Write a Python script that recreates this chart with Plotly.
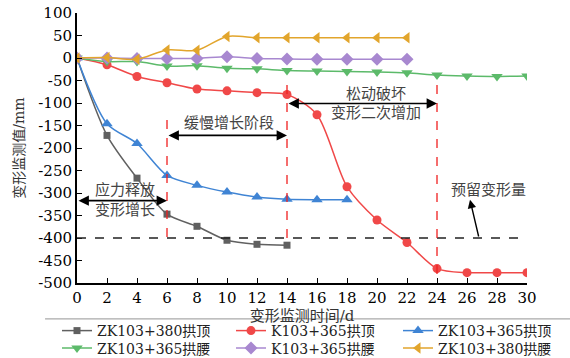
import plotly.graph_objects as go

days_a = [0, 2, 4, 6, 8, 10, 12, 14]
days_b = [0, 2, 4, 6, 8, 10, 12, 14, 16, 18]
days_c = [0, 2, 4, 6, 8, 10, 12, 14, 16, 18, 20, 22]
days_full = [0, 2, 4, 6, 8, 10, 12, 14, 16, 18, 20, 22, 24, 26, 28, 30]

zk380_crown = [0, -172, -267, -347, -374, -405, -414, -416]
k365_crown = [0, -15, -41, -55, -69, -73, -77, -81, -126, -286, -360, -410, -468, -477, -477, -477]
zk365_crown = [0, -146, -190, -261, -283, -298, -309, -314, -315, -315]
zk365_waist = [0, -8, -8, -18, -17, -23, -24, -28, -29, -30, -31, -33, -38, -40, -41, -40]
k365_waist = [0, 0, -1, -1, -1, 3, -1, -2, -3, -3, -3, -3]
zk380_waist = [0, 1, -3, 18, 17, 48, 45, 45, 45, 45, 45, 45]

names = ["ZK103+380拱顶", "K103+365拱顶", "ZK103+365拱顶",
         "ZK103+365拱腰", "K103+365拱腰", "ZK103+380拱腰"]

x_ticks = list(range(0, 31, 2))
y_ticks = list(range(-500, 101, 50))
y_ticktext = [str(v) for v in y_ticks]  # plain hyphen minus as in reference

FONT = "DejaVu Serif, Noto Sans CJK SC, serif"

series = [
    (days_a, zk380_crown, "#606060", "square", 7),
    (days_full, k365_crown, "#f04848", "circle", 9),
    (days_b, zk365_crown, "#3f84d4", "triangle-up", 10),
    (days_full, zk365_waist, "#5cba6a", "triangle-down", 10),
    (days_c, k365_waist, "#a888d0", "diamond", 10),
    (days_c, zk380_waist, "#e2a52c", "triangle-left", 10),
]
legend_ids = ["legend", "legend2", "legend3", "legend4", "legend5", "legend6"]

fig = go.Figure()
for (xs, ys, color, sym, sz), name, lg in zip(series, names, legend_ids):
    fig.add_trace(go.Scatter(
        x=xs, y=ys, name=name, mode="lines+markers", legend=lg,
        line=dict(color=color, width=1.5, shape="spline", smoothing=0.8),
        marker=dict(color=color, symbol=sym, size=sz),
    ))

shapes = [
    dict(type="line", xref="x", yref="y", x0=0, x1=30, y0=-400, y1=-400,
         line=dict(color="#222222", width=1.3, dash="dash")),
    dict(type="line", xref="x", yref="y", x0=6, x1=6, y0=-138, y1=-400,
         line=dict(color="#f02020", width=1.3, dash="dash")),
    dict(type="line", xref="x", yref="y", x0=14, x1=14, y0=-60, y1=-400,
         line=dict(color="#f02020", width=1.3, dash="dash")),
    dict(type="line", xref="x", yref="y", x0=24, x1=24, y0=-60, y1=-485,
         line=dict(color="#f02020", width=1.3, dash="dash")),
    dict(type="line", xref="paper", yref="paper", x0=-0.071, x1=1.1, y0=-0.133, y1=-0.133,
         line=dict(color="#aaaaaa", width=1.2)),
]

def dbl_arrow(x0, x1, y):
    return dict(x=x1, y=y, ax=x0, ay=y, xref="x", yref="y", axref="x", ayref="y",
                text="", showarrow=True, arrowhead=2, startarrowhead=2,
                arrowside="end+start", arrowsize=1.3, arrowwidth=1.6,
                arrowcolor="black", startarrowsize=1.3)

tfont = dict(family=FONT, size=15, color="#444444")
annotations = [
    dbl_arrow(0, 6, -317),
    dbl_arrow(6, 14, -172),
    dbl_arrow(14, 24, -101),
    dict(x=3.2, y=-294, text="应力释放", showarrow=False, font=tfont, xref="x", yref="y"),
    dict(x=3.2, y=-338, text="变形增长", showarrow=False, font=tfont, xref="x", yref="y"),
    dict(x=10.1, y=-145, text="缓慢增长阶段", showarrow=False, font=tfont, xref="x", yref="y"),
    dict(x=19.9, y=-79, text="松动破坏", showarrow=False, font=tfont, xref="x", yref="y"),
    dict(x=19.9, y=-123, text="变形二次增加", showarrow=False, font=tfont, xref="x", yref="y"),
    dict(x=27.4, y=-294, text="预留变形量", showarrow=False, font=tfont, xref="x", yref="y"),
    dict(x=26.2, y=-315, ax=26.8, ay=-400, xref="x", yref="y", axref="x", ayref="y",
         text="", showarrow=True, arrowhead=2, arrowsize=1.2, arrowwidth=1.4,
         arrowcolor="black"),
]

PLOT_L, PLOT_B, PLOT_W, PLOT_H = 77, 283, 450, 270
def px2paper_x(px):
    return (px - PLOT_L) / PLOT_W
def px2paper_y(py):
    return (PLOT_B - py) / PLOT_H

lfont = dict(family=FONT, size=14, color="#222222")
def legend_at(px, py_top):
    return dict(orientation="v", x=px2paper_x(px), y=px2paper_y(py_top),
                xanchor="left", yanchor="top",
                font=lfont, bgcolor="rgba(0,0,0,0)", borderwidth=0, tracegroupgap=0,
                itemwidth=30)

col_px = [57, 231, 398]
row_top = [315, 332.5]
legends = {}
for i, lg in enumerate(legend_ids):
    legends[lg] = legend_at(col_px[i % 3], row_top[i // 3])

fig.update_layout(
    width=570, height=358,
    margin=dict(l=77, r=43, t=13, b=75, autoexpand=False),
    paper_bgcolor="white", plot_bgcolor="white",
    font=dict(family=FONT, size=14, color="black"),
    shapes=shapes, annotations=annotations,
    showlegend=True,
    **legends,
    xaxis=dict(range=[0, 30], tickmode="array", tickvals=x_ticks,
               showline=True, linecolor="black", linewidth=2, ticks="inside",
               ticklen=5, tickcolor="black", showgrid=False, zeroline=False,
               title=dict(text="变形监测时间/d", standoff=2,
                          font=dict(family=FONT, size=15, color="#333333")),
               tickfont=dict(family=FONT, size=15)),
    yaxis=dict(range=[-500, 100], tickmode="array", tickvals=y_ticks, ticktext=y_ticktext,
               showline=True, linecolor="black", linewidth=2, ticks="inside",
               ticklen=5, tickcolor="black", showgrid=False, zeroline=False,
               title=dict(text="变形监测值/mm", standoff=10,
                          font=dict(family=FONT, size=14, color="#333333")),
               tickfont=dict(family=FONT, size=15)),
)

fig.write_html("out.html", config={"displayModeBar": False},
               post_script="document.body.style.margin='0';")
